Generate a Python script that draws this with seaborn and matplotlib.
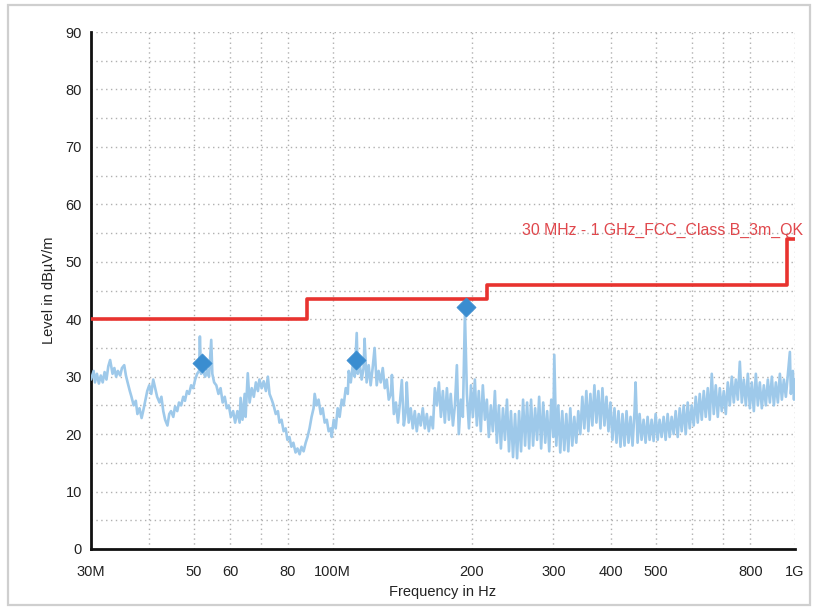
import matplotlib
matplotlib.use("Agg")
import matplotlib.pyplot as plt
from matplotlib.patches import Rectangle
from matplotlib.ticker import FixedLocator, FixedFormatter
import seaborn as sns
import pandas as pd

# ---------------- data (MHz, dBuV/m) ----------------
trace_30_100M = [
    (30.0, 29.5), (30.4, 31.0), (30.6, 29.0), (30.9, 30.5), (31.2, 28.8), (31.5, 30.2),
    (31.8, 29.0), (32.1, 30.8), (32.4, 29.5), (32.7, 31.8), (33.0, 32.9), (33.4, 30.5),
    (33.7, 31.5), (34.0, 30.0), (34.3, 31.0), (34.7, 30.2), (35.0, 31.5), (35.4, 32.0),
    (35.7, 30.2), (36.0, 29.0), (36.4, 27.5), (36.7, 26.5), (37.1, 25.0), (37.5, 25.8),
    (37.8, 23.5), (38.2, 24.5), (38.6, 22.8), (38.9, 24.0), (39.3, 25.8), (39.7, 27.5),
    (40.1, 28.5), (40.5, 27.0), (40.9, 29.5), (41.3, 28.0), (41.7, 26.5), (42.2, 25.5),
    (42.6, 26.5), (43.0, 24.0), (43.4, 22.5), (43.9, 21.5), (44.3, 23.5), (44.7, 24.0),
    (45.2, 23.0), (45.6, 24.8), (46.1, 24.0), (46.5, 25.5), (47.0, 25.0), (47.5, 26.5),
    (47.9, 25.8), (48.4, 27.5), (48.9, 27.0), (49.4, 28.5), (49.9, 28.0), (50.4, 29.5),
    (50.9, 30.5), (51.4, 31.0), (51.6, 37.0), (51.9, 30.5), (52.4, 31.0), (53.0, 30.0),
    (53.5, 31.2), (54.0, 30.0), (54.6, 36.4), (54.9, 30.5), (55.4, 29.0), (56.0, 28.5),
    (56.6, 27.0), (57.2, 28.0), (57.8, 25.5), (58.4, 26.5), (59.0, 24.5), (59.6, 25.0),
    (60.2, 23.0), (60.9, 24.0), (61.5, 22.0), (62.2, 24.0), (62.9, 22.0), (63.2, 26.3),
    (63.8, 22.5), (64.5, 27.0), (64.8, 23.0), (65.5, 30.6), (66.1, 25.5), (66.8, 28.0),
    (67.5, 26.5), (68.2, 29.0), (68.9, 27.5), (69.4, 29.5), (70.2, 28.0), (70.9, 29.2),
    (71.7, 27.5), (72.4, 30.0), (73.0, 27.0), (73.8, 26.0), (74.5, 25.0), (75.3, 23.5),
    (76.1, 24.0), (76.7, 22.0), (77.5, 22.5), (78.3, 20.5), (79.1, 21.0), (79.8, 19.0),
    (80.6, 19.5), (81.4, 17.8), (82.2, 18.5), (83.1, 16.8), (83.9, 17.5), (84.8, 16.5),
    (85.6, 17.8), (86.5, 17.0), (87.4, 18.5), (88.2, 19.5), (89.1, 21.0), (90.0, 23.0),
    (90.9, 24.5), (91.4, 27.0), (92.3, 25.0), (93.2, 26.0), (94.2, 23.5), (95.1, 24.5),
    (96.1, 22.0), (97.1, 22.5), (98.0, 20.5), (99.0, 21.0), (99.5, 19.5),
]
trace_100_300M = [
    (100.5, 22.5), (101.5, 21.0), (102.5, 24.5), (103.5, 23.0), (104.6, 26.0), (105.6, 25.0),
    (106.7, 28.0), (107.8, 27.0), (108.3, 31.0), (109.4, 29.0), (110.5, 32.0), (111.6, 30.0),
    (112.7, 37.6), (113.3, 30.5), (114.3, 32.5), (115.5, 29.5), (116.6, 31.5), (117.2, 36.6),
    (118.4, 29.0), (119.6, 32.0), (120.8, 28.5), (122.0, 31.5), (123.2, 35.0), (124.5, 28.5),
    (125.7, 31.0), (127.0, 29.0), (128.3, 31.5), (129.6, 28.0), (130.9, 29.5), (132.2, 26.0),
    (133.6, 27.0), (134.3, 30.3), (135.6, 23.5), (137.0, 25.5), (138.4, 22.0), (139.6, 25.0),
    (141.1, 29.4), (142.5, 21.5), (143.9, 24.0), (144.6, 29.0), (146.0, 22.0), (147.5, 24.5),
    (149.0, 21.0), (150.5, 24.0), (152.0, 20.5), (153.5, 23.5), (155.0, 21.5), (156.6, 24.5),
    (158.2, 21.0), (159.8, 23.5), (161.4, 20.5), (163.0, 23.0), (164.7, 21.0), (166.3, 28.0),
    (168.0, 25.0), (169.7, 29.0), (171.4, 23.0), (173.1, 27.5), (174.8, 22.0), (176.6, 28.0),
    (178.4, 22.5), (180.0, 27.0), (182.0, 21.5), (183.8, 25.0), (185.6, 32.0), (187.4, 20.0),
    (189.3, 26.0), (191.2, 23.0), (193.2, 41.0), (195.1, 27.0), (197.1, 21.0), (199.1, 28.5),
    (201.0, 23.0), (203.0, 29.5), (205.0, 21.5), (207.0, 27.5), (209.1, 20.5), (211.2, 28.5),
    (213.4, 22.5), (215.5, 26.0), (217.6, 19.5), (219.8, 25.0), (222.0, 20.5), (224.3, 27.5),
    (226.5, 18.5), (228.8, 25.0), (231.1, 17.5), (233.5, 24.5), (235.8, 19.0), (238.2, 26.0),
    (240.6, 17.0), (243.0, 24.0), (245.5, 16.0), (248.0, 23.5), (250.5, 15.8), (253.0, 24.0),
    (255.5, 17.0), (258.1, 26.0), (260.7, 18.0), (263.3, 25.5), (266.0, 17.5), (268.6, 26.0),
    (271.3, 18.0), (274.1, 24.5), (276.8, 19.0), (279.6, 26.5), (282.4, 17.5), (285.3, 25.5),
    (288.2, 18.5), (291.0, 24.0), (294.0, 17.0), (297.0, 26.0),
]
trace_300M_1G = [
    (300.0, 19.5), (301.5, 33.8), (304.5, 18.0), (307.6, 25.0), (310.6, 16.8), (313.7, 24.0),
    (316.9, 17.2), (320.1, 23.5), (323.3, 17.0), (326.5, 24.5), (329.8, 18.0), (333.1, 23.0),
    (336.4, 18.5), (339.8, 24.0), (343.2, 20.0), (346.7, 26.5), (350.2, 21.0), (353.7, 27.5),
    (357.3, 20.5), (360.9, 27.0), (364.5, 21.5), (368.2, 28.5), (371.9, 22.0), (375.6, 27.5),
    (379.4, 21.0), (383.2, 28.0), (387.1, 21.5), (391.0, 26.5), (394.9, 20.5), (398.8, 25.5),
    (402.8, 19.0), (406.9, 24.5), (411.0, 18.5), (415.1, 24.0), (419.3, 17.8), (423.5, 23.5),
    (427.8, 18.0), (432.1, 24.0), (436.4, 18.5), (440.8, 23.0), (445.2, 18.0), (449.7, 24.0),
    (452.0, 29.0), (456.5, 18.5), (461.1, 23.5), (465.7, 19.0), (470.4, 22.5), (475.1, 18.5),
    (479.9, 23.0), (484.7, 19.0), (489.6, 22.5), (494.5, 18.8), (499.5, 23.5), (504.5, 19.0),
    (509.5, 22.5), (514.6, 19.5), (519.8, 23.0), (525.0, 19.0), (530.3, 23.5), (535.6, 19.5),
    (541.0, 23.0), (546.4, 20.0), (551.9, 24.0), (557.5, 19.5), (563.1, 24.5), (568.7, 20.5),
    (574.4, 25.0), (580.2, 20.0), (586.0, 25.5), (591.9, 21.0), (597.8, 25.0), (603.8, 21.5),
    (609.9, 26.5), (616.0, 22.0), (622.2, 27.0), (628.5, 22.5), (634.8, 27.5), (641.1, 23.0),
    (647.6, 28.0), (654.0, 22.5), (660.6, 30.5), (667.2, 23.5), (673.9, 28.5), (680.6, 23.0),
    (687.5, 28.0), (694.4, 24.0), (701.3, 27.5), (708.4, 23.5), (715.5, 29.0), (722.7, 25.0),
    (729.9, 30.0), (737.2, 25.5), (744.6, 29.5), (752.1, 26.0), (759.7, 32.6), (767.3, 25.5),
    (775.0, 29.5), (782.8, 25.0), (790.6, 30.5), (798.5, 24.5), (806.5, 29.0), (814.6, 24.0),
    (822.8, 30.5), (831.0, 25.0), (839.3, 29.0), (847.7, 24.5), (856.2, 28.5), (864.8, 25.0),
    (873.5, 29.5), (882.3, 25.5), (891.1, 30.0), (900.0, 25.0), (909.0, 29.0), (918.2, 25.5),
    (927.4, 30.5), (936.6, 26.0), (946.0, 29.5), (955.5, 26.5), (965.1, 30.5), (974.8, 34.3),
    (979.6, 27.0), (989.5, 31.0), (995.0, 26.0), (1000.0, 29.5),
]

limit_freq = [30, 88, 88, 216, 216, 960, 960, 1000]
limit_level = [40, 40, 43.5, 43.5, 46, 46, 54, 54]
limit_label = "30 MHz - 1 GHz_FCC_Class B_3m_QK"

peak_freq = [52.2, 112.5, 194.0]
peak_level = [32.4, 32.9, 42.1]

x_ticks = [30, 40, 50, 60, 70, 80, 100, 200, 300, 400, 500, 600, 700, 800, 1000]
x_tick_labels = ["30M", "", "50", "60", "", "80", "100M", "200", "300", "400", "500", "", "", "800", "1G"]
y_major = [0, 10, 20, 30, 40, 50, 60, 70, 80, 90]
y_minor = [5, 15, 25, 35, 45, 55, 65, 75, 85]

# ---------------- style ----------------
sns.set_style("white")
plt.rcParams["font.family"] = ["Liberation Sans", "DejaVu Sans"]

trace = trace_30_100M + trace_100_300M + trace_300M_1G
trace_df = pd.DataFrame(trace, columns=["freq", "level"])
limit_df = pd.DataFrame({"freq": limit_freq, "level": limit_level})
peak_df = pd.DataFrame({"freq": peak_freq, "level": peak_level})

fig = plt.figure(figsize=(8.14, 6.08), dpi=100)
fig.patch.set_facecolor("white")
fig.patches.append(Rectangle((8 / 814, 3 / 608), 802 / 814, 600 / 608, transform=fig.transFigure,
                             fill=False, edgecolor="#cfcfcf", linewidth=1.6))
ax = fig.add_axes([91 / 814, 1 - 549 / 608, 704 / 814, 517 / 608])

sns.lineplot(data=trace_df, x="freq", y="level", ax=ax, estimator=None, sort=False,
             color="#9ec9ea", linewidth=1.9, zorder=3)
sns.lineplot(data=limit_df, x="freq", y="level", ax=ax, estimator=None, sort=False,
             color="#e8332f", linewidth=2.6, zorder=4)
sns.scatterplot(data=peak_df, x="freq", y="level", ax=ax, marker="D", s=95,
                color="#3a8dd0", edgecolor="#3a8dd0", linewidth=0.5, zorder=5)

ax.set_xscale("log")
ax.set_xlim(30, 1000)
ax.set_ylim(0, 90)
ax.xaxis.set_major_locator(FixedLocator(x_ticks))
ax.xaxis.set_major_formatter(FixedFormatter(x_tick_labels))
ax.xaxis.set_minor_locator(FixedLocator([]))
ax.yaxis.set_major_locator(FixedLocator(y_major))
ax.yaxis.set_minor_locator(FixedLocator(y_minor))

ax.grid(True, which="both", color="#b0b0b0", linestyle=(0, (1, 2.5)), linewidth=1.0, zorder=1)
for s in ["top", "right"]:
    ax.spines[s].set_visible(False)
for s in ["left", "bottom"]:
    ax.spines[s].set_color("#111111")
    ax.spines[s].set_linewidth(2.0)
ax.tick_params(axis="both", which="both", direction="inout", length=11, width=1.6,
               color="#111111", labelsize=10.5, labelcolor="#222222")
ax.tick_params(axis="y", which="both", pad=1)
ax.tick_params(axis="x", which="both", pad=6)

ax.set_xlabel("Frequency in Hz", fontsize=10.5, color="#222222", labelpad=4)
ax.set_ylabel("Level in dBµV/m", fontsize=10.5, color="#222222", labelpad=7)

ax.text(1.012, 55.4, limit_label, transform=ax.get_yaxis_transform(), ha="right", va="center",
        fontsize=11.4, color="#e0474c", zorder=6, clip_on=False)

fig.savefig("out.png", dpi=100)
